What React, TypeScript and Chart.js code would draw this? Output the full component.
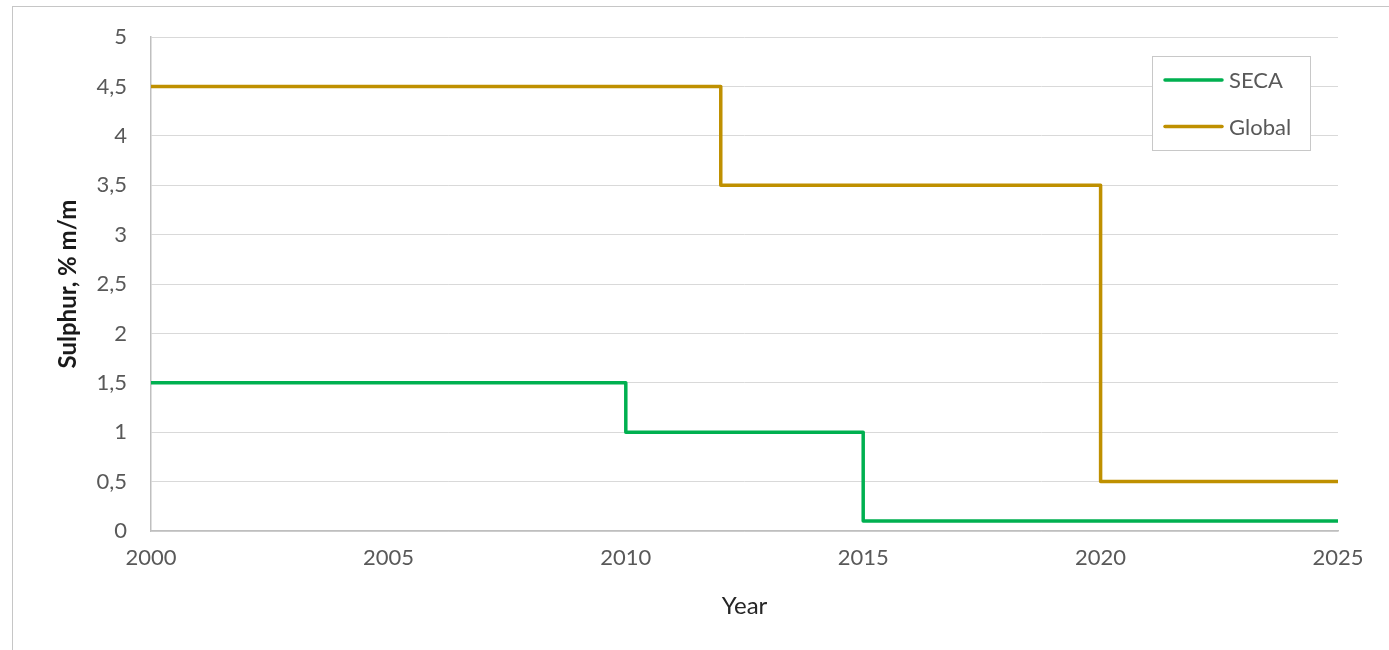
import React, { useEffect, useRef } from "react";
import { Chart, registerables } from "chart.js";

Chart.register(...registerables);

// Sulphur limits in marine fuel, % m/m, as steps starting at each year
const secaYears = [2000, 2010, 2015, 2025];
const secaLimits = [1.5, 1.0, 0.1, 0.1];
const globalYears = [2000, 2012, 2020, 2025];
const globalLimits = [4.5, 3.5, 0.5, 0.5];

const seriesNames = ["SECA", "Global"];
const seriesColors = ["#00b050", "#bf9000"];

const xTickYears = [2000, 2005, 2010, 2015, 2020, 2025];

const FONT = "Lato, 'Open Sans', sans-serif";
const W = 1389;
const H = 650;

// Boxed legend inside the plot area, top-right
const boxLegend = {
  id: "boxLegend",
  afterDraw(chart: any) {
    const ctx = chart.ctx;
    const x0 = 1152;
    const y0 = 56;
    const w = 158;
    const h = 94;
    ctx.save();
    ctx.fillStyle = "#ffffff";
    ctx.fillRect(x0, y0, w, h);
    ctx.strokeStyle = "#c8c8c8";
    ctx.lineWidth = 1;
    ctx.strokeRect(x0 + 0.5, y0 + 0.5, w, h);
    chart.data.datasets.forEach((ds: any, i: number) => {
      const y = y0 + 24 + i * 46.5;
      ctx.strokeStyle = ds.borderColor;
      ctx.lineWidth = 3.5;
      ctx.lineCap = "round";
      ctx.beginPath();
      ctx.moveTo(x0 + 13, y);
      ctx.lineTo(x0 + 70, y);
      ctx.stroke();
      ctx.fillStyle = "#595959";
      ctx.font = `22px ${FONT}`;
      ctx.textBaseline = "middle";
      ctx.textAlign = "left";
      ctx.fillText(ds.label, x0 + 77, y + 1);
    });
    ctx.restore();
  },
};

export default function App() {
  const canvasRef = useRef<HTMLCanvasElement | null>(null);

  useEffect(() => {
    const canvas = canvasRef.current;
    if (!canvas) return;
    const chart = new Chart(canvas, {
      type: "line",
      data: {
        datasets: [
          {
            label: seriesNames[0],
            data: secaYears.map((x, i) => ({ x, y: secaLimits[i] })),
            borderColor: seriesColors[0],
            backgroundColor: seriesColors[0],
            borderWidth: 3.5,
            pointRadius: 0,
            stepped: "before",
            borderJoinStyle: "round",
          },
          {
            label: seriesNames[1],
            data: globalYears.map((x, i) => ({ x, y: globalLimits[i] })),
            borderColor: seriesColors[1],
            backgroundColor: seriesColors[1],
            borderWidth: 3.5,
            pointRadius: 0,
            stepped: "before",
            borderJoinStyle: "round",
          },
        ],
      },
      options: {
        animation: false,
        responsive: false,
        events: [],
        layout: { padding: { top: 36, right: 51, bottom: 29, left: 54 } },
        plugins: {
          legend: { display: false },
          tooltip: { enabled: false },
        },
        scales: {
          x: {
            type: "linear",
            min: 2000,
            max: 2025,
            afterFit: (s: any) => {
              s.height = 90;
            },
            afterBuildTicks: (s: any) => {
              s.ticks = xTickYears.map((v) => ({ value: v }));
            },
            ticks: {
              callback: (v: any) => String(v),
              color: "#595959",
              font: { family: FONT, size: 22 },
              padding: 14,
              maxRotation: 0,
              autoSkip: false,
            },
            grid: { display: false, drawTicks: false },
            border: { display: true, color: "#bfbfbf", width: 1.5 },
            title: {
              display: true,
              text: "Year",
              color: "#262626",
              font: { family: FONT, size: 24 },
              padding: { top: 4, bottom: 0 },
            },
          },
          y: {
            min: 0,
            max: 5,
            afterFit: (s: any) => {
              s.width = 97;
            },
            ticks: {
              stepSize: 0.5,
              callback: (v: any) => String(v).replace(".", ","),
              color: "#595959",
              font: { family: FONT, size: 22 },
              padding: 24,
            },
            grid: { color: "#d9d9d9", lineWidth: 1, drawTicks: false },
            border: { display: true, color: "#bfbfbf", width: 1.5 },
            title: {
              display: true,
              text: "Sulphur, % m/m",
              color: "#1a1a1a",
              font: { family: FONT, size: 24, weight: "bold" },
              padding: { top: 0, bottom: 0 },
            },
          },
        },
      },
      plugins: [boxLegend],
    } as any);
    return () => chart.destroy();
  }, []);

  return (
    <div>
      <div
        style={{
          position: "fixed",
          left: 12,
          top: 6,
          width: W - 12,
          height: H - 6,
          borderTop: "1px solid #c6c6c6",
          borderLeft: "1px solid #c6c6c6",
          boxSizing: "border-box",
        }}
      />
      <canvas
        ref={canvasRef}
        width={W}
        height={H}
        style={{ position: "fixed", left: 0, top: 0, width: W, height: H }}
      />
    </div>
  );
}
